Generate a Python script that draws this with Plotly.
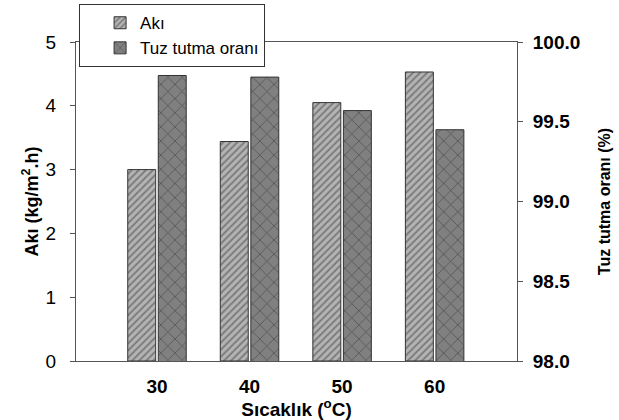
import plotly.graph_objects as go

temps = [30, 40, 50, 60]
aki = [3.00, 3.44, 4.05, 4.53]
tuz = [99.79, 99.78, 99.57, 99.45]
x_ticklabels = ["30", "40", "50", "60"]

FONT = "Arial, Liberation Sans, sans-serif"
LINE = "#555555"

fig = go.Figure()
fig.add_trace(go.Bar(
    x=temps, y=aki, name="Akı", yaxis="y",
    width=3.02, offset=-3.16,
    marker=dict(color="#b4b4b4",
                line=dict(color="#333333", width=1),
                pattern=dict(shape="/", bgcolor="#b4b4b4", fgcolor="#444444",
                             size=5, solidity=0.4)),
))
fig.add_trace(go.Bar(
    x=temps, y=tuz, name="Tuz tutma oranı", yaxis="y2",
    width=3.02, offset=0.14,
    marker=dict(color="#808080",
                line=dict(color="#333333", width=1),
                pattern=dict(shape="x", bgcolor="#808080", fgcolor="#222222",
                             size=10, solidity=0.15)),
))

fig.update_layout(
    width=619, height=420,
    margin=dict(l=76, r=102, t=42, b=59, autoexpand=False),
    paper_bgcolor="white", plot_bgcolor="white",
    font=dict(family=FONT, size=17, color="black"),
    showlegend=True,
    legend=dict(x=0.007, y=0.99, yref="container", xanchor="left", yanchor="top",
                bgcolor="white", bordercolor="#333333", borderwidth=1,
                font=dict(size=17), indentation=20, tracegroupgap=0),
    xaxis=dict(range=[21.25, 68.9], tickvals=temps, ticktext=x_ticklabels,
               showline=True, linecolor=LINE, mirror=True, ticks="",
               ticklabelstandoff=8, automargin=False,
               showgrid=False, zeroline=False,
               tickfont=dict(size=19, weight="bold"),
               title=dict(text="<b>Sıcaklık (<sup>o</sup>C)</b>", font=dict(size=19), standoff=10)),
    yaxis=dict(range=[0, 5], dtick=1, showline=True, linecolor=LINE,
               ticks="outside", ticklen=5, tickcolor=LINE,
               ticklabelstandoff=10, automargin=False,
               showgrid=False, zeroline=False,
               tickfont=dict(size=19),
               title=dict(text="<b>Akı (kg/m<sup>2</sup>.h)</b>", font=dict(size=18), standoff=2)),
    yaxis2=dict(range=[98, 100], dtick=0.5, tickformat=".1f", overlaying="y", side="right",
                showline=True, linecolor=LINE,
                ticks="outside", ticklen=5, tickcolor=LINE,
                ticklabelstandoff=6, automargin=False,
                showgrid=False, zeroline=False,
                tickfont=dict(size=19, weight="bold"),
                title=dict(text="<b>Tuz tutma oranı (%)</b>", font=dict(size=16), standoff=19)),
)

fig.write_html("out.html")
